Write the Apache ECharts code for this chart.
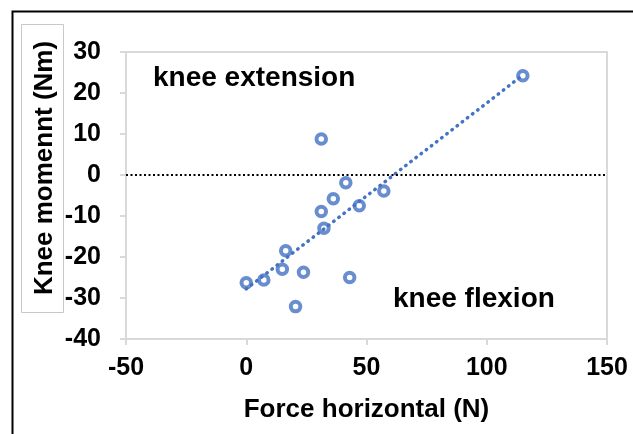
<!DOCTYPE html>
<html>
<head>
<meta charset="utf-8">
<script src="https://cdn.jsdelivr.net/npm/echarts@6/dist/echarts.min.js"></script>
<style>
html,body{margin:0;padding:0;background:#fff;}
#chart{width:633px;height:434px;}
</style>
</head>
<body>
<div id="chart"></div>
<script>
// Data
var forceHorizontal = [0, 7.3, 15, 16.4, 23.8, 20.5, 31.2, 32.3, 36.2, 41.4, 47, 43, 57.2, 31.2, 115];
var kneeMoment      = [-26.3, -25.6, -23, -18.5, -23.7, -32.1, -8.9, -13, -5.8, -1.9, -7.5, -25, -3.9, 8.8, 24.2];
var xTicks = [-50, 0, 50, 100, 150];
var yTicks = [-40, -30, -20, -10, 0, 10, 20, 30];
var xTitle = 'Force horizontal (N)';
var yTitle = 'Knee momennt (Nm)';
var noteTop = 'knee extension';
var noteBottom = 'knee flexion';

var points = forceHorizontal.map(function (x, i) { return [x, kneeMoment[i]]; });

// linear least-squares trendline (as the spreadsheet's linear trendline)
var n = points.length, sx = 0, sy = 0;
points.forEach(function (p) { sx += p[0]; sy += p[1]; });
var mx = sx / n, my = sy / n, sxy = 0, sxx = 0;
points.forEach(function (p) { sxy += (p[0] - mx) * (p[1] - my); sxx += (p[0] - mx) * (p[0] - mx); });
var slope = sxy / sxx, intercept = my - slope * mx;
var xMin = Math.min.apply(null, forceHorizontal), xMax = Math.max.apply(null, forceHorizontal);
var trend = [[xMin, intercept + slope * xMin], [xMax, intercept + slope * xMax]];

var FONT = '"Liberation Sans", Arial, sans-serif';
var BLUE = '#4472C4';
var GRAY = '#d9d9d9';

var chart = echarts.init(document.getElementById('chart'), null, {renderer: 'canvas'});
chart.setOption({
  animation: false,
  backgroundColor: '#fff',
  grid: {left: 126, right: 26, top: 52, bottom: 95, show: true, borderColor: GRAY, borderWidth: 2, containLabel: false},
  xAxis: {
    type: 'value', min: xTicks[0], max: xTicks[xTicks.length - 1], interval: 50,
    name: xTitle, nameLocation: 'middle', nameGap: 58,
    nameTextStyle: {fontFamily: FONT, fontWeight: 'bold', fontSize: 26, color: '#000'},
    axisLine: {show: true, onZero: false, lineStyle: {color: GRAY, width: 2}},
    axisTick: {show: true, length: 6, lineStyle: {color: GRAY, width: 2}},
    axisLabel: {fontFamily: FONT, fontWeight: 'bold', fontSize: 25, color: '#000', margin: 17},
    splitLine: {show: false}
  },
  yAxis: {
    type: 'value', min: yTicks[0], max: yTicks[yTicks.length - 1], interval: 10,
    axisLine: {show: true, onZero: false, lineStyle: {color: GRAY, width: 2}},
    axisTick: {show: true, length: 6, lineStyle: {color: GRAY, width: 2}},
    axisLabel: {fontFamily: FONT, fontWeight: 'bold', fontSize: 25, color: '#000', margin: 25},
    splitLine: {show: false}
  },
  series: [
    {
      type: 'scatter', data: points, symbol: 'circle', symbolSize: 9.5,
      itemStyle: {color: '#fff', borderColor: BLUE, borderWidth: 4},
      z: 3,
      markLine: {
        silent: true, symbol: 'none', animation: false,
        label: {show: false},
        lineStyle: {color: '#000', width: 2, type: [2, 2.5]},
        data: [{yAxis: 0}]
      }
    },
    {
      type: 'line', data: trend, showSymbol: false, symbol: 'none',
      lineStyle: {color: BLUE, width: 3.5, type: [0.5, 6], cap: 'round'},
      z: 4
    }
  ],
  graphic: [
    {type: 'rect', left: 10, top: 9, shape: {x: 0, y: 0, width: 640, height: 440},
     style: {fill: 'none', stroke: '#000', lineWidth: 2}, z: 100},
    {type: 'rect', shape: {x: 21.5, y: 24.5, width: 42, height: 288},
     style: {fill: 'none', stroke: '#c8c8c8', lineWidth: 1}, z: 100},
    {type: 'text', x: 45, y: 168, rotation: Math.PI / 2,
     style: {text: yTitle, fill: '#000', font: 'bold 26px ' + FONT, align: 'center', verticalAlign: 'middle'}, z: 100},
    {type: 'text', x: 153, y: 78,
     style: {text: noteTop, fill: '#000', font: 'bold 28px ' + FONT, align: 'left', verticalAlign: 'middle'}, z: 100},
    {type: 'text', x: 393, y: 299,
     style: {text: noteBottom, fill: '#000', font: 'bold 28px ' + FONT, align: 'left', verticalAlign: 'middle'}, z: 100}
  ]
});
</script>
</body>
</html>
